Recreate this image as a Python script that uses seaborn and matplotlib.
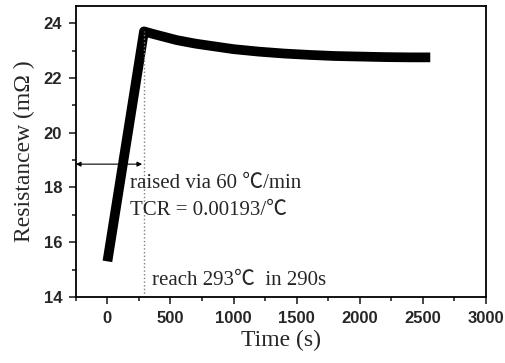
import pandas as pd
import seaborn as sns
import matplotlib.pyplot as plt
import matplotlib.ticker as ticker

time_s = [0, 290, 350, 450, 550, 700, 850, 1000, 1200, 1400, 1600, 1800, 2000, 2200, 2400, 2560]
resistance = [15.3, 23.7, 23.62, 23.5, 23.38, 23.25, 23.15, 23.05, 22.96, 22.89, 22.84, 22.8, 22.78, 22.76, 22.75, 22.75]

df = pd.DataFrame({'Time (s)': time_s, 'Resistance': resistance})

sns.set_style('ticks')
serif = ['Liberation Serif', 'Noto Sans CJK SC', 'DejaVu Serif']

fig = plt.figure(figsize=(5.06, 3.63), dpi=100)
ax = fig.add_axes([0.150, 0.182, 0.810, 0.801])

sns.lineplot(data=df, x='Time (s)', y='Resistance', color='black', linewidth=7,
             solid_capstyle='butt', ax=ax)

ax.set_xlim(-250, 3000)
ax.set_ylim(14, 24.62)
ax.xaxis.set_major_locator(ticker.MultipleLocator(500))
ax.xaxis.set_minor_locator(ticker.MultipleLocator(250))
ax.yaxis.set_major_locator(ticker.MultipleLocator(2))
ax.yaxis.set_minor_locator(ticker.MultipleLocator(1))
ax.tick_params(which='major', direction='out', length=5, width=1.2, labelsize=12, pad=5)
ax.tick_params(which='minor', direction='out', length=3, width=1.2)
for lab in ax.get_xticklabels() + ax.get_yticklabels():
    lab.set_fontweight('bold')
    lab.set_family('Liberation Sans')
for s in ax.spines.values():
    s.set_linewidth(1.3)
    s.set_color('black')

ax.set_xlabel('Time (s)', family=serif, fontsize=17, labelpad=3)
ax.set_ylabel('Resistancew (m\u03a9 )', family=serif, fontsize=17, labelpad=6)

# reach marker and ramp arrow
ax.plot([290, 290], [14, 23.7], color='gray', linestyle=':', linewidth=1)
ax.annotate('', xy=(-250, 18.85), xytext=(275, 18.85),
            arrowprops=dict(arrowstyle='<|-|>', color='black', lw=0.8,
                            mutation_scale=7, shrinkA=0, shrinkB=0))

ax.text(180, 18.15, 'raised via 60 \u2103/min', family=serif, fontsize=15,
        va='center', ha='left')
ax.text(180, 17.15, 'TCR = 0.00193/\u2103', family=serif, fontsize=15,
        va='center', ha='left')
ax.text(355, 14.6, 'reach 293\u2103  in 290s', family=serif, fontsize=15,
        va='center', ha='left')

fig.savefig('out.png', dpi=100)
